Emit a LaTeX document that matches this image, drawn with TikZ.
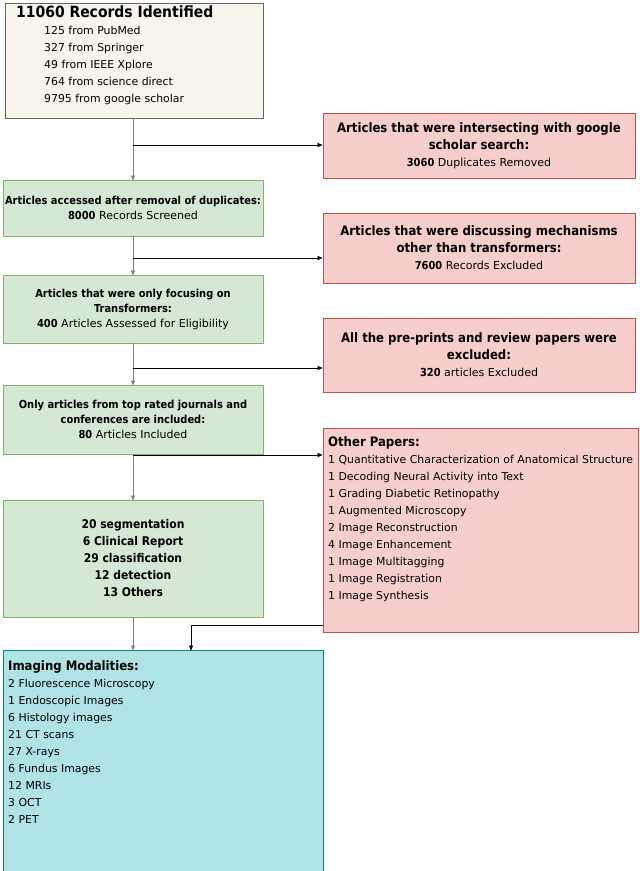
\documentclass[tikz,border=0pt]{standalone}
\usepackage{fontspec}
\setmainfont{DejaVu Sans}[BoldFont={DejaVu Sans Condensed Bold}]
\usetikzlibrary{arrows.meta}
\definecolor{crm}{HTML}{F8F5EC}\definecolor{crmb}{HTML}{666666}
\definecolor{grn}{HTML}{D5E8D4}\definecolor{grnb}{HTML}{82B366}
\definecolor{red}{HTML}{F8CECC}\definecolor{redb}{HTML}{B85450}
\definecolor{cyn}{HTML}{B0E3E6}\definecolor{cynb}{HTML}{0E8088}
\newcommand{\rh}[1]{{\fontsize{13}{17}\selectfont\textbf{#1}}}
\begin{document}
\begin{tikzpicture}[x=1pt,y=-1pt,
 box/.style={draw,line width=0.8pt,inner sep=0pt},
 g/.style={box,fill=grn,draw=grnb,align=center,font=\fontsize{11}{15}\selectfont},
 r/.style={box,fill=red,draw=redb,align=center,font=\fontsize{11}{17}\selectfont},
 txt/.style={anchor=north west,align=left,inner sep=0pt,font=\fontsize{10.9}{17}\selectfont},
 arr/.style={-{Triangle[length=5pt,width=4pt]},line width=0.6pt}]
\useasboundingbox (0,0) rectangle (640,871);
\path[box,fill=crm,draw=crmb] (5,3) rectangle (263,118);
\node[txt] (t1) at (16,6) {{\fontsize{15.5}{18}\selectfont\textbf{11060 Records Identified}}\\
\hspace*{28pt}125 from PubMed\\\hspace*{28pt}327 from Springer\\\hspace*{28pt}49 from IEEE Xplore\\\hspace*{28pt}764 from science direct\\\hspace*{28pt}9795 from google scholar};
\node[r,minimum width=312,minimum height=65] (b2) at (479,145.5) {\rh{Articles that were intersecting with google}\\\rh{scholar search:}\\\textbf{3060} Duplicates Removed};
\node[g,minimum width=260,minimum height=56] (b3) at (133,208) {\textbf{Articles accessed after removal of duplicates:}\\\textbf{8000} Records Screened};
\node[r,minimum width=312,minimum height=70] (b4) at (479,248) {\rh{Articles that were discussing mechanisms}\\\rh{other than transformers:}\\\textbf{7600} Records Excluded};
\node[g,minimum width=260,minimum height=68] (b5) at (133,309) {\textbf{Articles that were only focusing on}\\\textbf{Transformers:}\\\textbf{400} Articles Assessed for Eligibility};
\node[r,minimum width=312,minimum height=74] (b6) at (479,355) {\rh{All the pre-prints and review papers were}\\\rh{excluded:}\\\textbf{320} articles Excluded};
\node[g,minimum width=260,minimum height=69] (b7) at (133,419.5) {\textbf{Only articles from top rated journals and}\\\textbf{conferences are included:}\\\textbf{80} Articles Included};
\node[r,minimum width=315,minimum height=204] (b8) at (480.5,530) {};
\node[txt] (t8) at (328,436) {{\fontsize{13}{17}\selectfont\textbf{Other Papers:}}\\1 Quantitative Characterization of Anatomical Structure\\1 Decoding Neural Activity into Text\\1 Grading Diabetic Retinopathy\\1 Augmented Microscopy\\2 Image Reconstruction\\4 Image Enhancement\\1 Image Multitagging\\1 Image Registration\\1 Image Synthesis};
\node[g,minimum width=260,minimum height=117,font=\bfseries\fontsize{12}{17}\selectfont] (b9) at (133,558.5) {20 segmentation\\6 Clinical Report\\29 classification\\12 detection\\13 Others};
\node[box,fill=cyn,draw=cynb,minimum width=320,minimum height=221] (b10) at (163,760.5) {};
\node[txt] (t10) at (8,660) {{\fontsize{13}{17}\selectfont\textbf{Imaging Modalities:}}\\2 Fluorescence Microscopy\\1 Endoscopic Images\\6 Histology images\\21 CT scans\\27 X-rays\\6 Fundus Images\\12 MRIs\\3 OCT\\2 PET};
\coordinate (j1) at (133,145); \coordinate (j2) at (133,258);
\coordinate (j3) at (133,368); \coordinate (j4) at (133,455);
\draw[arr,gray] (133,118) -- ([yshift=-1pt]b3.north);
\draw[arr] (j1) -- (j1 -| b2.west);
\draw[arr,gray] (b3.south) -- ([yshift=-1pt]b5.north);
\draw[arr] (j2) -- (j2 -| b4.west);
\draw[arr,gray] (b5.south) -- ([yshift=-1pt]b7.north);
\draw[arr] (j3) -- (j3 -| b6.west);
\draw[arr,gray] (b7.south) -- ([yshift=-1pt]b9.north);
\draw[arr] (j4) -- (j4 -| b8.west);
\draw[arr,gray] (b9.south) -- ([yshift=-1pt]b9.south |- b10.north);
\coordinate (k) at (191,625);
\draw[arr] (k -| b8.west) -- (k) -- ([yshift=-1pt]k |- b10.north);
\end{tikzpicture}
\end{document}
